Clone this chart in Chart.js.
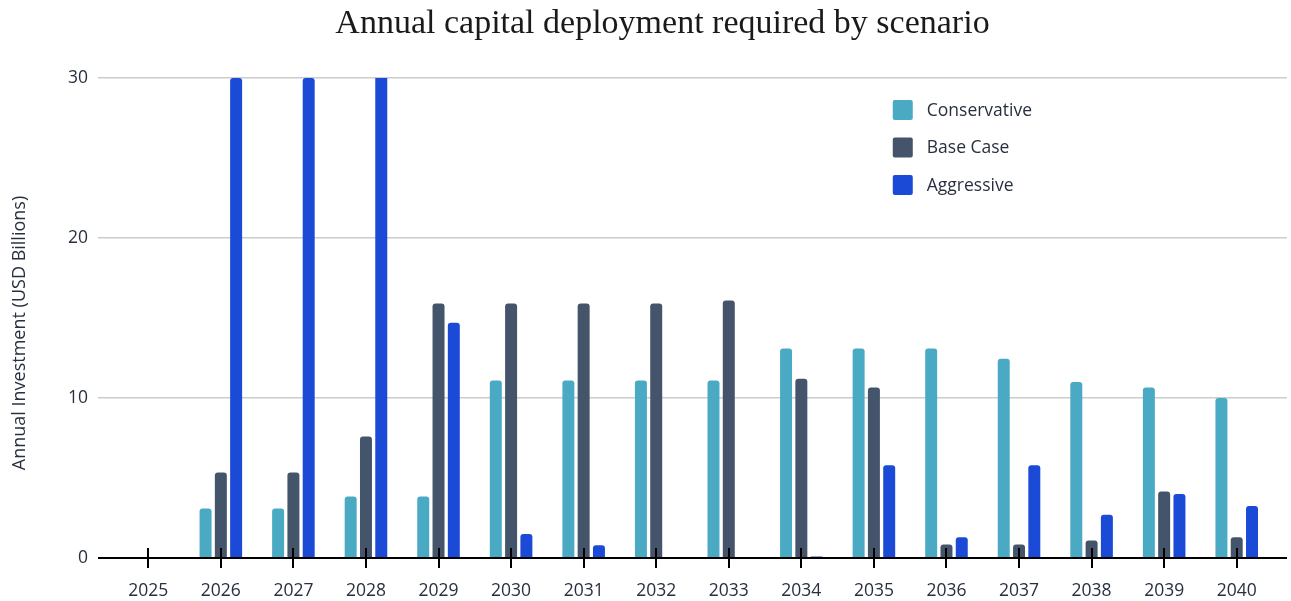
<!DOCTYPE html>
<html>
<head>
<meta charset="utf-8">
<title>Annual capital deployment required by scenario</title>
<script src="https://cdn.jsdelivr.net/npm/chart.js@4.4.1/dist/chart.umd.min.js"></script>
<style>
  html, body { margin: 0; padding: 0; background: #fff; }
  #wrap { width: 1291px; height: 601px; }
</style>
</head>
<body>
<div id="wrap"><canvas id="deploymentChart" width="1291" height="601"></canvas></div>
<script>
// Annual investment per scenario (USD billions)
const years = ['2025', '2026', '2027', '2028', '2029', '2030', '2031', '2032',
               '2033', '2034', '2035', '2036', '2037', '2038', '2039', '2040'];
const conservative = [0, 3.1, 3.1, 3.85, 3.85, 11.1, 11.1, 11.1, 11.1, 13.1, 13.1, 13.1, 12.45, 11.0, 10.65, 10.0];
const baseCase = [0, 5.35, 5.35, 7.6, 15.9, 15.9, 15.9, 15.9, 16.1, 11.2, 10.65, 0.85, 0.85, 1.1, 4.15, 1.3];
const aggressive = [0, 30, 30, 34, 14.7, 1.5, 0.8, 0, 0, 0.1, 5.8, 1.3, 5.8, 2.7, 4.0, 3.25];
const yTicks = [0, 10, 20, 30];

const colors = {
    conservative: '#4aaac4',
    baseCase: '#44546a',
    aggressive: '#1b4bd6'
};

const textColor = '#283040';
const tickFont = { family: 'Open Sans', size: 17.5 };
const yTitle = 'Annual Investment (USD Billions)';

// Black tick marks crossing the baseline at each year, drawn over the bars
const xTickMarks = {
    id: 'xTickMarks',
    afterDatasetsDraw(chart) {
        const { ctx, scales: { x, y } } = chart;
        const y0 = y.getPixelForValue(0);
        ctx.save();
        ctx.strokeStyle = '#000';
        ctx.lineWidth = 2;
        x.ticks.forEach((t, i) => {
            const px = Math.round(x.getPixelForTick(i));
            ctx.beginPath();
            ctx.moveTo(px, y0 - 10);
            ctx.lineTo(px, y0 + 10);
            ctx.stroke();
        });
        ctx.restore();
    }
};

// Rotated y-axis title, sitting a little below the middle of the axis
const yAxisTitle = {
    id: 'yAxisTitle',
    afterDraw(chart) {
        const { ctx, chartArea } = chart;
        ctx.save();
        ctx.translate(20, (chartArea.top + chartArea.bottom) / 2 + 15);
        ctx.rotate(-Math.PI / 2);
        ctx.font = '18px "Open Sans"';
        ctx.fillStyle = textColor;
        ctx.textAlign = 'center';
        ctx.textBaseline = 'middle';
        ctx.fillText(yTitle, 0, 0);
        ctx.restore();
    }
};

// Vertical legend inside the plot, upper right
const scenarioLegend = {
    id: 'scenarioLegend',
    afterDraw(chart) {
        const { ctx, chartArea } = chart;
        const left = chartArea.left + chartArea.width * 0.6725;
        let cy = chartArea.top + 32;
        ctx.save();
        ctx.font = '17.5px "Open Sans"';
        ctx.textBaseline = 'middle';
        chart.data.datasets.forEach(ds => {
            ctx.fillStyle = ds.backgroundColor;
            ctx.beginPath();
            ctx.roundRect(left, cy - 10, 20, 20, 2);
            ctx.fill();
            ctx.fillStyle = textColor;
            ctx.fillText(ds.label, left + 34, cy + 1);
            cy += 37.5;
        });
        ctx.restore();
    }
};

const gridColor = c => (c.tick && c.tick.value === 0 ? '#000' : '#cccccc');
const gridWidth = c => (c.tick && c.tick.value === 0 ? 2 : 1.5);
const useTicks = scale => { scale.ticks = yTicks.map(v => ({ value: v })); };
const gridOpts = { color: gridColor, lineWidth: gridWidth, tickLength: 14, tickColor: gridColor, tickWidth: gridWidth };

function drawChart() {
    const ctx = document.getElementById('deploymentChart').getContext('2d');
    return new Chart(ctx, {
        type: 'bar',
        data: {
            labels: years,
            datasets: [
                { label: 'Conservative', data: conservative, backgroundColor: colors.conservative },
                { label: 'Base Case', data: baseCase, backgroundColor: colors.baseCase },
                { label: 'Aggressive', data: aggressive, backgroundColor: colors.aggressive }
            ]
        },
        options: {
            responsive: false,
            animation: false,
            devicePixelRatio: 1,
            layout: { padding: { left: 34, right: 0, top: 0, bottom: 0 } },
            datasets: {
                bar: {
                    categoryPercentage: 0.632,
                    barPercentage: 0.784,
                    borderRadius: 3,
                    borderSkipped: 'start',
                    clip: 0
                }
            },
            scales: {
                x: {
                    grid: { display: false },
                    border: { display: false },
                    ticks: { font: tickFont, color: textColor, padding: 14.5, maxRotation: 0 },
                    afterFit: s => { s.height = 43; }
                },
                y: {
                    position: 'left',
                    min: yTicks[0],
                    max: yTicks[yTicks.length - 1],
                    afterBuildTicks: useTicks,
                    grid: gridOpts,
                    border: { display: false },
                    ticks: { font: tickFont, color: textColor, padding: 10 },
                    afterFit: s => { s.width = 78; }
                },
                // right-hand stub so the gridlines run a little past the last year
                y2: {
                    position: 'right',
                    min: yTicks[0],
                    max: yTicks[yTicks.length - 1],
                    afterBuildTicks: useTicks,
                    grid: { ...gridOpts, drawOnChartArea: false },
                    border: { display: false },
                    ticks: { display: false },
                    afterFit: s => { s.width = 18; }
                }
            },
            plugins: {
                legend: { display: false },
                tooltip: { enabled: false },
                title: {
                    display: true,
                    text: 'Annual capital deployment required by scenario',
                    font: { family: 'Liberation Serif', size: 34, weight: 'normal' },
                    color: '#1a1a1a',
                    padding: { top: 4, bottom: 33.2 }
                }
            }
        },
        plugins: [xTickMarks, yAxisTitle, scenarioLegend]
    });
}

document.fonts.load('17.5px "Open Sans"').then(drawChart, drawChart);
</script>
</body>
</html>
